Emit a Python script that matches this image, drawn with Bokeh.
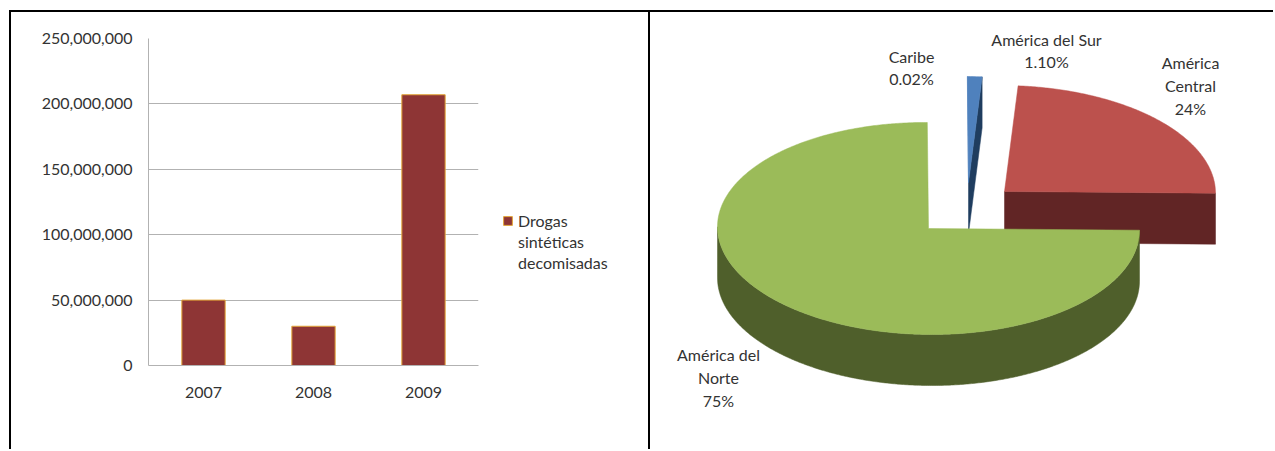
import numpy as np
from bokeh.plotting import figure
from bokeh.layouts import row, column
from bokeh.models import (ColumnDataSource, FactorRange, Range1d, NumeralTickFormatter, FixedTicker,
                          Legend, LegendItem)
from bokeh.core.properties import value
from bokeh.embed import file_html
from bokeh.resources import INLINE

# ---- bar chart data
years = ["2007", "2008", "2009"]
seized = [50000000, 30000000, 207000000]
y_ticks = [0, 50000000, 100000000, 150000000, 200000000, 250000000]
legend_lines = ["Drogas", "sintéticas", "decomisadas"]

# ---- pie chart data
pie_labels = ["América del\nNorte\n75%", "Caribe\n0.02%", "América del Sur\n1.10%", "América\nCentral\n24%"]
pie_values = [75, 0.02, 1.10, 24]
pie_top = ["#9BBB59", "#4F81BD", "#4F81BD", "#BC514D"]
pie_side = ["#4F5F2B", "#1F3D5F", "#1F3D5F", "#612525"]

FONT = "Lato"
TXT = "#333333"
GRID = "#B2B2B2"
BORDER = {"box-shadow": "-2px -2px 0 #000000", "overflow": "visible"}

# ---- left: bars
left = figure(width=None, height=None, frame_width=330, frame_height=327,
              output_backend="svg", toolbar_location=None,
              x_range=FactorRange(factors=years, range_padding=0),
              y_range=Range1d(0, 250000000),
              min_border_left=137, min_border_right=37, min_border_top=26, min_border_bottom=86,
              margin=(12, 0, 0, 11), styles=BORDER,
              outline_line_color=None, background_fill_color="white", border_fill_color="white")
src = ColumnDataSource(dict(year=years, seized=seized))
bars = left.vbar(x="year", top="seized", width=0.394, source=src,
                 fill_color="#8E3535", line_color="#E3A63A", line_width=1)
left.yaxis.ticker = FixedTicker(ticks=y_ticks)
left.yaxis.formatter = NumeralTickFormatter(format="0,0")
left.xgrid.visible = False
left.ygrid.ticker = FixedTicker(ticks=y_ticks)
left.ygrid.grid_line_color = GRID
for ax in (left.xaxis[0], left.yaxis[0]):
    ax.axis_line_color = GRID
    ax.major_tick_line_color = None
    ax.minor_tick_line_color = None
    ax.major_label_text_font = FONT
    ax.major_label_text_font_size = "16px"
    ax.major_label_text_color = TXT
left.yaxis.major_label_standoff = 10
left.xaxis.major_label_standoff = 15
items = [LegendItem(label=legend_lines[0], renderers=[bars]),
         LegendItem(label=legend_lines[1], renderers=[]),
         LegendItem(label=legend_lines[2], renderers=[])]
leg = Legend(items=items, location=(24, 93), orientation="vertical", border_line_color=None,
             background_fill_alpha=0, glyph_width=11, glyph_height=11, spacing=2,
             label_text_font=FONT, label_text_font_size="16px", label_text_color=TXT,
             padding=0, margin=25, label_standoff=5)
left.add_layout(leg, "right")

# ---- right: exploded 3D pie, one data unit = one pixel
OX, OY, W, H = 650, 12, 625, 439
right = figure(width=W, height=H, output_backend="svg", toolbar_location=None,
               x_range=Range1d(OX, OX + W), y_range=Range1d(OY + H, OY),
               min_border=0, margin=(12, 0, 0, 2),
               styles={**BORDER, "transform": "translateX(-475px)"}, outline_line_color=None,
               background_fill_color="white", border_fill_color="white")
right.axis.visible = False
right.grid.visible = False

RX, RY, DEPTH, SKEW = 211.0, 106.0, 51.0, 0.008
centers = [(928, 228), (968, 182), (968, 182), (1004, 191)]
total = sum(pie_values)
angles = np.cumsum([0] + [v / total * 360 for v in pie_values]) + 90


def rim(cx, cy, a0, a1):
    t = np.radians(np.linspace(a0, a1, max(int(abs(a1 - a0)) * 2, 2)))
    dx = RX * np.sin(t)
    return cx + dx, cy - RY * np.cos(t) + SKEW * dx


def draw_slice(i):
    cx, cy = centers[i]
    a0, a1 = angles[i], angles[i + 1]
    side = dict(fill_color=pie_side[i], line_color=pie_side[i], line_width=0.5)
    if a1 > 360:  # closing cut face is turned towards the viewer
        ex, ey = rim(cx, cy, a1, a1)
        right.patch([cx, ex[0], ex[0], cx], [cy, ey[0], ey[0] + DEPTH, cy + DEPTH], **side)
    lo, hi = max(a0, 90), min(a1, 270)
    if hi > lo:  # only the front part of the outer wall can be seen
        wx, wy = rim(cx, cy, lo, hi)
        right.patch(np.r_[wx, wx[::-1]], np.r_[wy, wy[::-1] + DEPTH], **side)
    xs, ys = rim(cx, cy, a0, a1)
    right.patch(np.r_[cx, xs], np.r_[cy, ys],
                fill_color=pie_top[i], line_color=pie_top[i], line_width=0.5)


for i in [3, 2, 1, 0]:
    draw_slice(i)

right.text(x=[718, 911, 1046, 1190], y=[377, 67, 50, 85], text=pie_labels,
           text_font=value(FONT), text_font_size="16px", text_color=TXT,
           text_align="center", text_baseline="middle", text_line_height=1.2)

page = row(column(left), column(right), spacing=0)
open("out.html", "w").write(file_html(page, INLINE))
